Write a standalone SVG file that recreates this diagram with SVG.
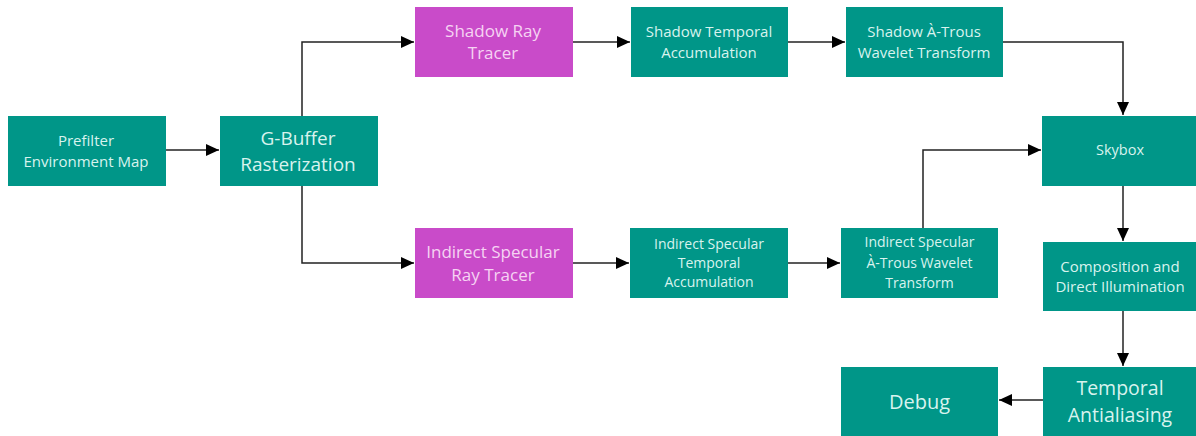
<svg xmlns="http://www.w3.org/2000/svg" width="1196" height="436" viewBox="0 0 1196 436">
<style>
.t{fill:#009688}
.m{fill:#c94bc9}
text{font-family:"Open Sans","Noto Sans","Liberation Sans",sans-serif;text-anchor:middle}
.tt{fill:#d8f3ee}
.mt{fill:#f6d3f3}
.c{fill:none;stroke:#222;stroke-width:1.5}
</style>
<defs>
<marker id="a" markerUnits="userSpaceOnUse" markerWidth="14" markerHeight="14" viewBox="0 0 14 14" refX="13" refY="7" orient="auto">
<path d="M0,1 L13,7 L0,13 Z" fill="#000"/>
</marker>
</defs>
<rect width="1196" height="436" fill="#fff"/>
<g id="connectors">
<path class="c" d="M166,150 H219" marker-end="url(#a)"/>
<path class="c" d="M302,116 V42 H414" marker-end="url(#a)"/>
<path class="c" d="M302,186 V263 H414" marker-end="url(#a)"/>
<path class="c" d="M573,42 H630" marker-end="url(#a)"/>
<path class="c" d="M788,42 H845" marker-end="url(#a)"/>
<path class="c" d="M1003,42 H1123 V115" marker-end="url(#a)"/>
<path class="c" d="M573,263 H629" marker-end="url(#a)"/>
<path class="c" d="M788,263 H840" marker-end="url(#a)"/>
<path class="c" d="M923,228 V150 H1041" marker-end="url(#a)"/>
<path class="c" d="M1123,186 V241" marker-end="url(#a)"/>
<path class="c" d="M1123,311 V366" marker-end="url(#a)"/>
<path class="c" d="M1043,400 H999" marker-end="url(#a)"/>
</g>
<g id="prefilter">
<rect class="t" x="8" y="116" width="158" height="70"/>
<text class="tt" font-size="15" x="86" y="146">Prefilter</text>
<text class="tt" font-size="15" x="86" y="166.5">Environment Map</text>
</g>
<g id="gbuffer">
<rect class="t" x="220" y="116" width="158" height="70"/>
<text class="tt" font-size="19" x="298" y="144.5">G-Buffer</text>
<text class="tt" font-size="19" x="298" y="170.5">Rasterization</text>
</g>
<g id="shadow-ray-tracer">
<rect class="m" x="415" y="7" width="158" height="70"/>
<text class="mt" font-size="17" x="493" y="36.5">Shadow Ray</text>
<text class="mt" font-size="17" x="493" y="59">Tracer</text>
</g>
<g id="shadow-temporal">
<rect class="t" x="631" y="7" width="157" height="70"/>
<text class="tt" font-size="15" x="709" y="37">Shadow Temporal</text>
<text class="tt" font-size="15" x="709" y="57.5">Accumulation</text>
</g>
<g id="shadow-atrous">
<rect class="t" x="846" y="7" width="157" height="70"/>
<text class="tt" font-size="15" x="924" y="37">Shadow À-Trous</text>
<text class="tt" font-size="15" x="924" y="57.5">Wavelet Transform</text>
</g>
<g id="skybox">
<rect class="t" x="1042" y="116" width="154" height="70"/>
<text class="tt" font-size="14.5" x="1120" y="155">Skybox</text>
</g>
<g id="indirect-ray-tracer">
<rect class="m" x="415" y="228" width="158" height="70"/>
<text class="mt" font-size="17" x="493" y="257.5">Indirect Specular</text>
<text class="mt" font-size="17" x="493" y="281">Ray Tracer</text>
</g>
<g id="indirect-temporal">
<rect class="t" x="630" y="228" width="158" height="70"/>
<text class="tt" font-size="14" x="709" y="248.5">Indirect Specular</text>
<text class="tt" font-size="14" x="709" y="267.5">Temporal</text>
<text class="tt" font-size="14" x="709" y="286.5">Accumulation</text>
</g>
<g id="indirect-atrous">
<rect class="t" x="841" y="228" width="157" height="70"/>
<text class="tt" font-size="14" x="919.5" y="246.5">Indirect Specular</text>
<text class="tt" font-size="14" x="919.5" y="267.5">À-Trous Wavelet</text>
<text class="tt" font-size="14" x="919.5" y="288">Transform</text>
</g>
<g id="composition">
<rect class="t" x="1043" y="242" width="153" height="69"/>
<text class="tt" font-size="15" x="1120" y="271.5">Composition and</text>
<text class="tt" font-size="15" x="1120" y="291.5">Direct Illumination</text>
</g>
<g id="taa">
<rect class="t" x="1043" y="367" width="153" height="69"/>
<text class="tt" font-size="19.5" x="1120" y="395">Temporal</text>
<text class="tt" font-size="19.5" x="1120" y="422">Antialiasing</text>
</g>
<g id="debug">
<rect class="t" x="841" y="367" width="157" height="69"/>
<text class="tt" font-size="20" x="919.5" y="409">Debug</text>
</g>
</svg>
